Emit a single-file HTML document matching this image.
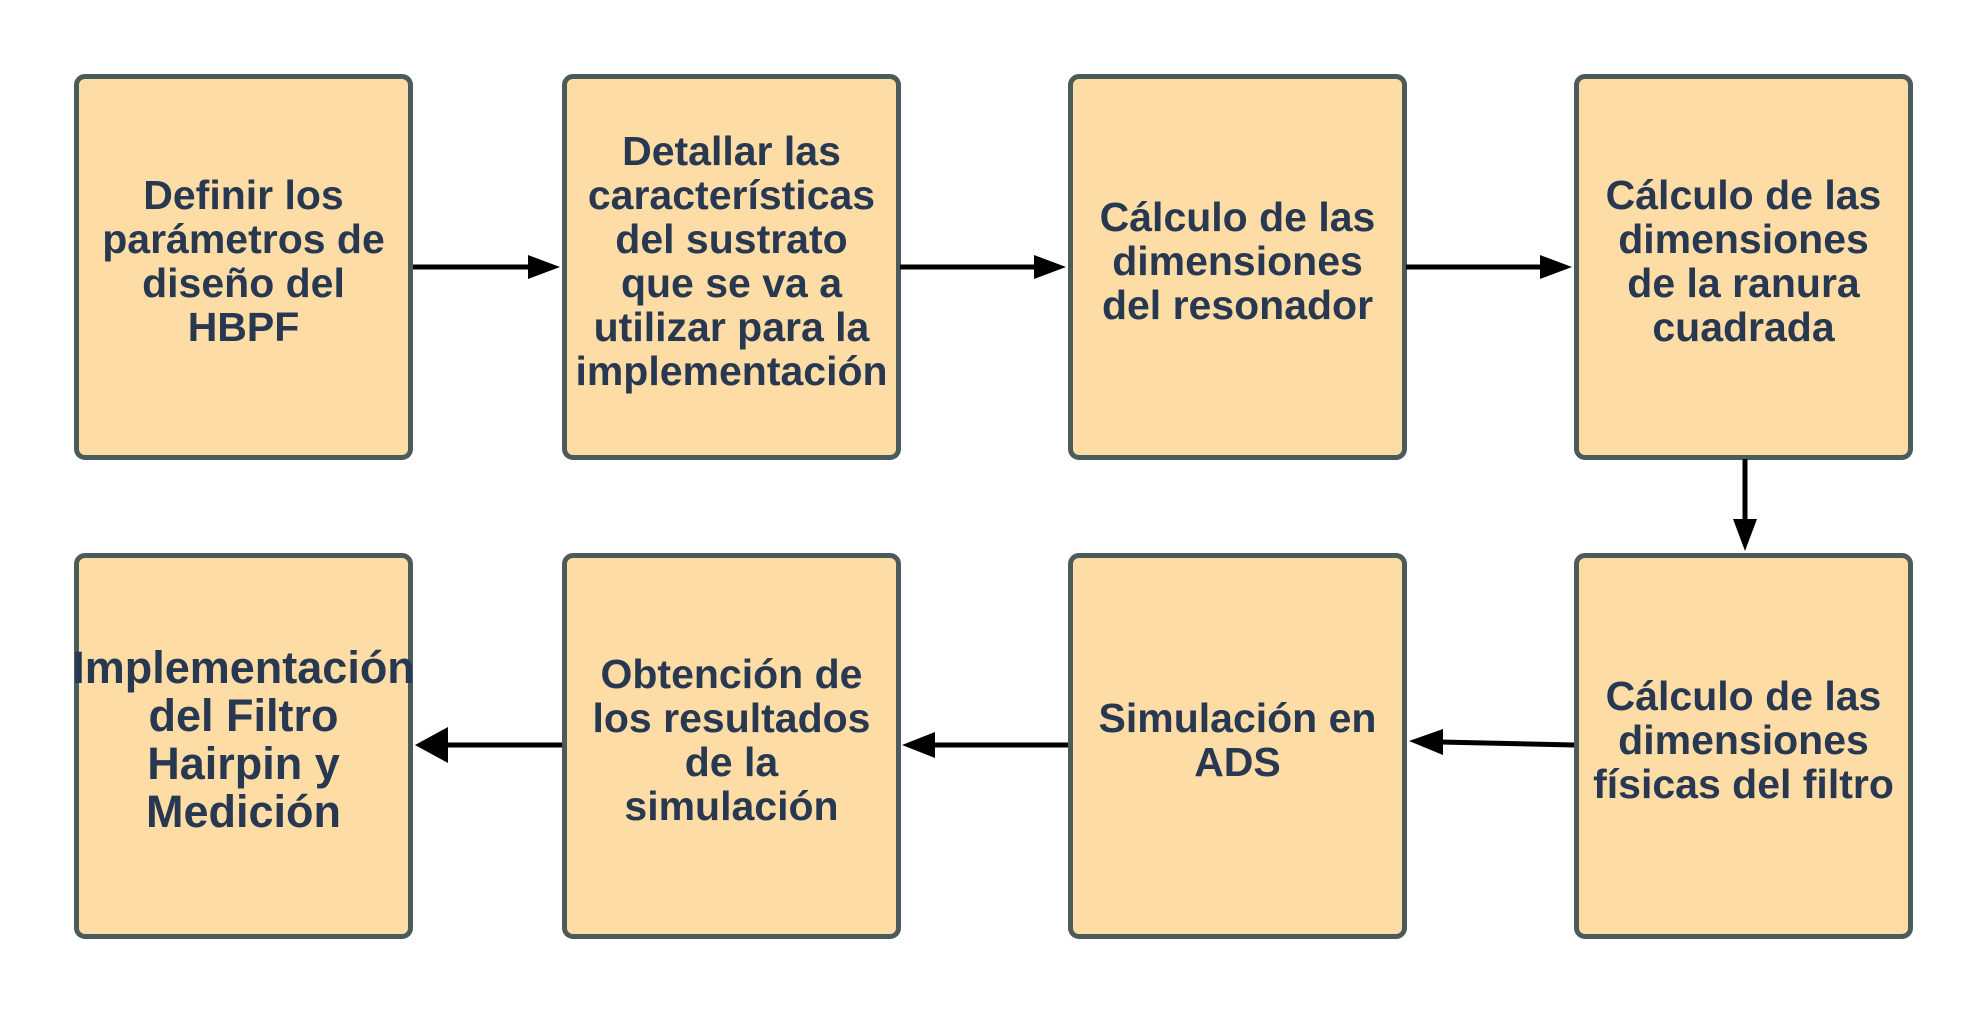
<!DOCTYPE html>
<html><head><meta charset="utf-8"><style>
body{margin:0;width:1988px;height:1013px;background:#fff;position:relative;overflow:hidden;font-family:"Liberation Sans",sans-serif;}
.b{position:absolute;width:329px;height:364px;padding-bottom:12px;background:#fddca6;border:5px solid #4b5b5b;border-radius:11px;display:flex;align-items:center;justify-content:center;text-align:center;color:#283850;font-weight:bold;font-size:41px;line-height:44px;white-space:nowrap;}
svg{position:absolute;left:0;top:0;}
</style></head><body>
<div class="b" style="left:74px;top:74px;">Definir los<br>parámetros de<br>diseño del<br>HBPF</div>
<div class="b" style="left:562px;top:74px;">Detallar las<br>características<br>del sustrato<br>que se va a<br>utilizar para la<br>implementación</div>
<div class="b" style="left:1068px;top:74px;">Cálculo de las<br>dimensiones<br>del resonador</div>
<div class="b" style="left:1574px;top:74px;">Cálculo de las<br>dimensiones<br>de la ranura<br>cuadrada</div>
<div class="b" style="left:74px;top:553px;font-size:45px;line-height:48px;">Implementación<br>del Filtro<br>Hairpin y<br>Medición</div>
<div class="b" style="left:562px;top:553px;">Obtención de<br>los resultados<br>de la<br>simulación</div>
<div class="b" style="left:1068px;top:553px;">Simulación en<br>ADS</div>
<div class="b" style="left:1574px;top:553px;">Cálculo de las<br>dimensiones<br>físicas del filtro</div>
<svg width="1988" height="1013">
<g stroke="#000" stroke-width="5" fill="none">
<line x1="413" y1="267" x2="530" y2="267"/>
<line x1="900" y1="267" x2="1036" y2="267"/>
<line x1="1406" y1="267" x2="1542" y2="267"/>
<line x1="1745" y1="459" x2="1745" y2="522"/>
<line x1="1574" y1="745" x2="1440" y2="742"/>
<line x1="1068" y1="745" x2="932" y2="745"/>
<line x1="562" y1="745" x2="445" y2="745"/>
</g>
<g fill="#000">
<polygon points="560,267 528,255 528,279"/>
<polygon points="1066,267 1034,255 1034,279"/>
<polygon points="1572,267 1540,255 1540,279"/>
<polygon points="1745,551 1733,519 1757,519"/>
<polygon points="1409,741 1443,729 1443,755"/>
<polygon points="902,745 935,732 935,758"/>
<polygon points="415,745 448,727 448,763"/>
</g>
</svg>
</body></html>
